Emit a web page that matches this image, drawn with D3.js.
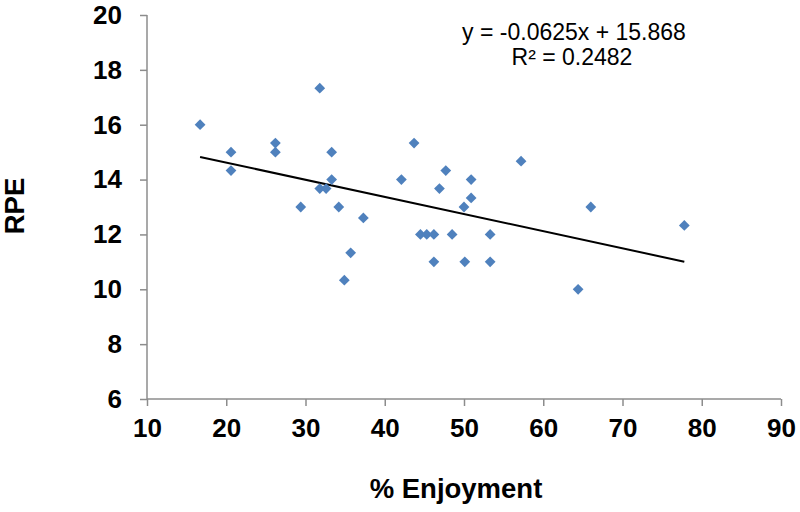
<!DOCTYPE html>
<html>
<head>
<meta charset="utf-8">
<script src="https://cdn.jsdelivr.net/npm/d3@7"></script>
<style>
  body { margin: 0; background: #ffffff; }
  svg { display: block; font-family: "Liberation Sans", Arial, sans-serif; }
</style>
</head>
<body>
<svg id="chart" width="800" height="512"></svg>
<script>
// Data
const enjoyment = [16.7, 20.6, 20.6, 26.2, 26.2, 29.4, 31.8, 31.8, 32.6, 33.3, 33.3, 34.2, 34.9, 35.7, 37.3,
                   42.1, 43.7, 44.5, 45.3, 46.2, 46.2, 46.9, 47.7, 48.5, 50.0, 50.1, 50.9, 50.9, 53.3, 53.3,
                   57.2, 64.4, 66.0, 77.8];
const rpe       = [16, 15, 14.33, 15.33, 15, 13, 17.33, 13.67, 13.67, 15, 14, 13, 10.33, 11.33, 12.6,
                   14, 15.33, 12, 12, 12, 11, 13.67, 14.33, 12, 13, 11, 14, 13.33, 12, 11,
                   14.67, 10, 13, 12.33];
const xTicks = [10, 20, 30, 40, 50, 60, 70, 80, 90];
const yTicks = [6, 8, 10, 12, 14, 16, 18, 20];
const trendSlope = -0.0625;
const trendIntercept = 15.868;
const equationLabel = "y = -0.0625x + 15.868";
const r2Label = "R² = 0.2482";
const xTitle = "% Enjoyment";
const yTitle = "RPE";

const svg = d3.select("#chart");
const mLeft = 147, mRight = 781, mTop = 15, mBottom = 399;

const x = d3.scaleLinear().domain([10, 90]).range([mLeft, mRight]);
const y = d3.scaleLinear().domain([6, 20]).range([mBottom, mTop]);

const axisColor = "#8c8c8c";

// X axis
const gx = svg.append("g").attr("transform", `translate(0,${mBottom})`)
  .call(d3.axisBottom(x).tickValues(xTicks).tickSize(7).tickPadding(13).tickFormat(d3.format("d")));
gx.select(".domain").attr("stroke", axisColor).attr("stroke-width", 1.5).attr("d", `M${mLeft},0H${mRight}`);
gx.selectAll(".tick line").attr("stroke", axisColor).attr("stroke-width", 1.5);
gx.selectAll(".tick text").attr("fill", "#000").attr("font-size", 26).attr("font-weight", "bold")
  .attr("font-family", "'Liberation Sans', Arial, sans-serif");

// Y axis
const gy = svg.append("g").attr("transform", `translate(${mLeft},0)`)
  .call(d3.axisLeft(y).tickValues(yTicks).tickSize(7).tickPadding(18).tickFormat(d3.format("d")));
gy.select(".domain").attr("stroke", axisColor).attr("stroke-width", 1.5).attr("d", `M0,${mTop}V${mBottom}`);
gy.selectAll(".tick line").attr("stroke", axisColor).attr("stroke-width", 1.5);
gy.selectAll(".tick text").attr("fill", "#000").attr("font-size", 26).attr("font-weight", "bold")
  .attr("font-family", "'Liberation Sans', Arial, sans-serif");

// Trendline
const xMin = d3.min(enjoyment), xMax = d3.max(enjoyment);
svg.append("line")
  .attr("x1", x(xMin)).attr("y1", y(trendSlope * xMin + trendIntercept))
  .attr("x2", x(xMax)).attr("y2", y(trendSlope * xMax + trendIntercept))
  .attr("stroke", "#000").attr("stroke-width", 2);

// Points (diamonds)
const pts = enjoyment.map((v, i) => ({x: v, y: rpe[i]}));
svg.append("g").selectAll("path").data(pts).join("path")
  .attr("d", d3.symbol().type(d3.symbolSquare).size(58))
  .attr("transform", d => `translate(${x(d.x)},${y(d.y)}) rotate(45)`)
  .attr("fill", "#4f81bd");

// Equation
svg.append("text").attr("x", 574).attr("y", 40).attr("text-anchor", "middle")
  .attr("font-size", 23).attr("fill", "#000").text(equationLabel);
svg.append("text").attr("x", 572).attr("y", 65).attr("text-anchor", "middle")
  .attr("font-size", 23).attr("fill", "#000").text(r2Label);

// Axis titles
svg.append("text").attr("x", 456).attr("y", 498).attr("text-anchor", "middle")
  .attr("font-size", 27.5).attr("font-weight", "bold").attr("fill", "#000").text(xTitle);
svg.append("text").attr("transform", `translate(24,206) rotate(-90)`).attr("text-anchor", "middle")
  .attr("font-size", 27.5).attr("font-weight", "bold").attr("fill", "#000").text(yTitle);
</script>
</body>
</html>
